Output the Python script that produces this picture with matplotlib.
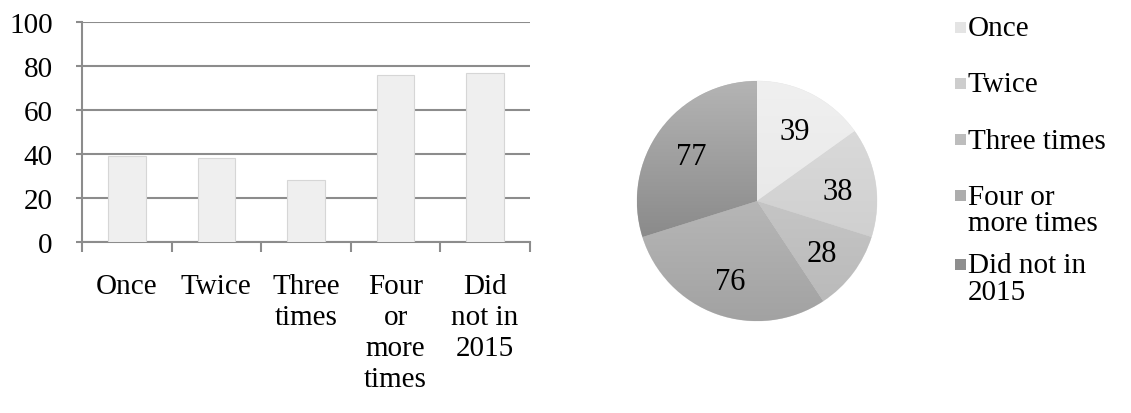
import matplotlib.pyplot as plt
import numpy as np
from matplotlib.colors import LinearSegmentedColormap
from matplotlib.patches import Rectangle

categories = ["Once", "Twice", "Three times", "Four or more times", "Did not in 2015"]
bar_labels = ["Once", "Twice", "Three\ntimes", "Four\nor\nmore\ntimes", "Did\nnot in\n2015"]
legend_labels = ["Once", "Twice", "Three times", "Four or\nmore times", "Did not in\n2015"]
values = [39, 38, 28, 76, 77]
# light (top) and dark (bottom) shade of each slice
pie_light = ["#f0f0f0", "#dedede", "#d2d2d2", "#cbcbcb", "#b4b4b4"]
pie_dark = ["#e2e2e2", "#c8c8c8", "#b8b8b8", "#a2a2a2", "#747474"]
handle_colors = ["#e4e4e4", "#cdcdcd", "#bdbdbd", "#adadad", "#8e8e8e"]

plt.rcParams['font.family'] = ['Liberation Serif', 'DejaVu Serif']
FS = 21
GRID = "#8c8c8c"

fig = plt.figure(figsize=(11.31, 4.14), dpi=100)

# bar chart
ax = fig.add_axes([0.0725, 0.413, 0.396, 0.531])
x = np.arange(len(values))
ax.bar(x, values, width=0.42, color="#efefef", edgecolor="#d6d6d6", linewidth=0.8, zorder=3)
ax.set_xlim(-0.5, len(values) - 0.5)
ax.set_ylim(0, 100)
ax.set_yticks(range(0, 101, 20))
ax.tick_params(axis='y', labelsize=FS, length=4, color=GRID, width=1.5, pad=17)
ax.set_xticks(x)
ax.set_xticklabels(bar_labels, fontsize=FS, linespacing=1.26, va='top')
ax.tick_params(axis='x', length=0, pad=22)
ax.set_xticks(np.arange(-0.5, len(values)), minor=True)
ax.tick_params(axis='x', which='minor', length=7, color=GRID, width=1.5)
ax.grid(axis='y', color=GRID, linewidth=1.5, zorder=0)
for side in ["top", "right"]:
    ax.spines[side].set_visible(False)
for side in ["left", "bottom"]:
    ax.spines[side].set_color(GRID)
    ax.spines[side].set_linewidth(1.5)

# pie chart
pax = fig.add_axes([0.5632, 0.222, 0.2122, 0.580])
wedges, texts, autotexts = pax.pie(
    values, colors=pie_dark, startangle=90, counterclock=False,
    autopct=lambda p: f"{p * sum(values) / 100:.0f}", pctdistance=0.68,
    wedgeprops=dict(edgecolor="#e8e8e8", linewidth=0.4),
    textprops=dict(fontsize=22),
)
grad = np.linspace(0, 1, 256).reshape(-1, 1)
for w, lo, hi in zip(wedges, pie_light, pie_dark):
    cmap = LinearSegmentedColormap.from_list("g", [lo, hi])
    im = pax.imshow(grad, cmap=cmap, extent=(-1, 1, -1, 1), origin='upper',
                    aspect='auto', zorder=w.get_zorder())
    im.set_clip_path(w)
for t in autotexts:
    t.set_zorder(5)
    t.set_va('center_baseline')
pax.set_xlim(-1, 1)
pax.set_ylim(-1, 1)
pax.set_aspect('equal')
pax.axis('off')

# legend, entries aligned on their first line
lx = 955 / 1131
y_top = 1 - 28 / 414
step = 56.3 / 414
extra = 12 / 414
extra_lines = 0
for i, (lab, hc) in enumerate(zip(legend_labels, handle_colors)):
    yc = y_top - i * step - extra_lines * extra
    fig.patches.append(Rectangle((lx, yc - 5.5 / 414), 11 / 1131, 11 / 414,
                                 transform=fig.transFigure, facecolor=hc,
                                 edgecolor="none"))
    fig.text(lx + 13 / 1131, yc + 12 / 414, lab, fontsize=FS, va='top',
             ha='left', linespacing=1.02)
    extra_lines += lab.count("\n")

fig.savefig("out.png", dpi=100)
